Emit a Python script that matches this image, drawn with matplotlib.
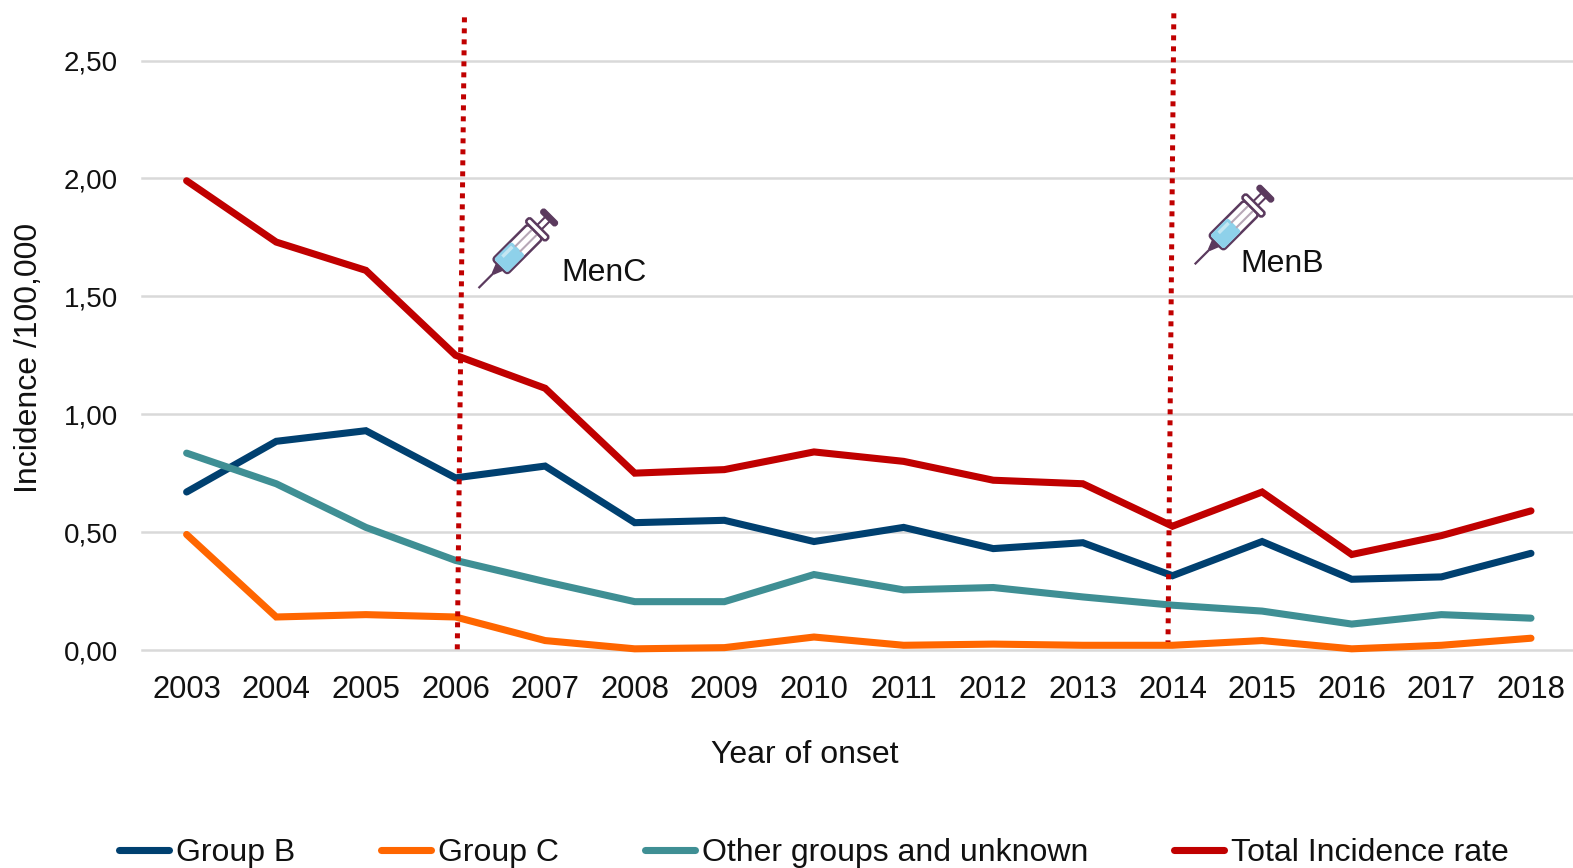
import matplotlib
matplotlib.use("Agg")
import matplotlib.pyplot as plt
from matplotlib.lines import Line2D
from matplotlib.patches import Rectangle, FancyBboxPatch, Polygon
from matplotlib.transforms import Affine2D

plt.rcParams['font.family'] = ['Liberation Sans', 'DejaVu Sans']

years = list(range(2003, 2019))
group_b = [0.67, 0.885, 0.93, 0.73, 0.78, 0.54, 0.55, 0.46, 0.52, 0.43, 0.455, 0.315, 0.46, 0.30, 0.31, 0.41]
group_c = [0.49, 0.14, 0.15, 0.14, 0.04, 0.005, 0.01, 0.055, 0.02, 0.025, 0.02, 0.02, 0.04, 0.005, 0.02, 0.05]
other = [0.835, 0.705, 0.52, 0.38, 0.29, 0.205, 0.205, 0.32, 0.255, 0.265, 0.225, 0.19, 0.165, 0.11, 0.15, 0.135]
total = [1.99, 1.73, 1.61, 1.25, 1.11, 0.75, 0.765, 0.84, 0.80, 0.72, 0.705, 0.525, 0.67, 0.405, 0.485, 0.59]
series = [("Group B", group_b, "#004070"),
          ("Group C", group_c, "#ff6600"),
          ("Other groups and unknown", other, "#3f8f94"),
          ("Total Incidence rate", total, "#c00000")]
y_ticks = [0.0, 0.5, 1.0, 1.5, 2.0, 2.5]

W, H = 1573, 868
AX_LEFT, AX_WIDTH = 141.8, 1434
fig = plt.figure(figsize=(W / 100, H / 100), dpi=100, facecolor="white")
ax = fig.add_axes([AX_LEFT / W, 1 - 650 / H, AX_WIDTH / W, (650 - 60.5) / H])

x = list(range(len(years)))
for label, values, colour in series:
    ax.plot(x, values, color=colour, lw=5.1, label=label,
            solid_capstyle="round", solid_joinstyle="miter", clip_on=False, zorder=3)

ax.set_xlim(-0.5, 15.5)
ax.set_ylim(0, 2.5)
ax.set_xticks(x, [str(y) for y in years])
ax.set_yticks(y_ticks, [f"{v:.2f}".replace(".", ",") for v in y_ticks])
ax.tick_params(length=0, colors="#111111")
ax.tick_params(axis="x", labelsize=22.3, pad=18)
ax.tick_params(axis="y", labelsize=20, pad=17)
for tick_label in ax.get_yticklabels():
    tick_label.set_verticalalignment("center_baseline")
ax.grid(axis="y", color="#d9d9d9", lw=1.8, clip_on=False)
ax.set_axisbelow(True)
for spine in ax.spines.values():
    spine.set_visible(False)
ax.set_xlabel("Year of onset", fontsize=23, color="#111111")
ax.xaxis.set_label_coords((804.5 - AX_LEFT) / AX_WIDTH, -(740 - 650) / (650 - 60.5))
ax.set_ylabel("Incidence /100,000", fontsize=23, color="#111111")
ax.yaxis.set_label_coords(-(AX_LEFT - 29) / AX_WIDTH, 0.495)
ax.yaxis.label.set_va("center")

# Vaccine introduction markers (hand-drawn, slightly slanted)
for xs, ys in [((3.10, 3.02), (2.683, 0.0)), ((11.015, 10.95), (2.70, 0.034))]:
    ax.add_line(Line2D(xs, ys, color="#c00000", lw=3.6, dashes=(1, 1.2),
                       dash_capstyle="butt", clip_on=False, zorder=4))

fig.text(602 / 1568, 1 - 272 / 865, "MenC", fontsize=23,
         ha="center", va="center", color="#111111")
fig.text(1278 / 1568, 1 - 263 / 865, "MenB", fontsize=23,
         ha="center", va="center", color="#111111")


def syringe(tip_x, tip_y):
    """Draw a syringe pointing down-left with its needle tip at the pixel (tip_x, tip_y)."""
    ink = "#5b3a5e"
    place = Affine2D().rotate_deg(45).translate(tip_x, H - tip_y)
    def add(artist):
        artist.set_transform(place)
        artist.set_clip_on(False)
        artist.set_zorder(5)
        fig.add_artist(artist)
    add(Line2D([0, 28], [0, 0], color=ink, lw=1.6))
    add(Polygon([[20, -1], [30, -5], [30, 5], [20, 1]], closed=True, fc=ink, ec=ink, lw=1))
    add(Line2D([78, 98], [0, 0], color=ink, lw=6.0, solid_capstyle="butt"))
    add(Line2D([78, 98], [0, 0], color="white", lw=3.0, solid_capstyle="butt"))
    add(FancyBboxPatch((29, -10.5), 50, 21, boxstyle="round,pad=0,rounding_size=3.5",
                       fc="white", ec=ink, lw=1.8))
    add(FancyBboxPatch((30, -9.6), 25, 19.2, boxstyle="round,pad=0,rounding_size=2.5",
                       fc="#8ed1ea", ec="none"))
    add(Rectangle((38, 3.5), 14, 3.5, fc="#c4e6f2", ec="none"))
    add(Line2D([55, 79], [-3.5, -3.5], color="#b7a8b7", lw=1.5))
    add(Line2D([55, 79], [3.5, 3.5], color="#b7a8b7", lw=1.5))
    add(FancyBboxPatch((79, -14), 6, 28, boxstyle="round,pad=0,rounding_size=2.5",
                       fc="white", ec=ink, lw=1.8))
    add(FancyBboxPatch((96, -10.5), 5.5, 21, boxstyle="round,pad=0,rounding_size=2.5",
                       fc=ink, ec=ink, lw=1))


syringe(479.3, 287.3)
syringe(1195.5, 263.5)

handles, labels = ax.get_legend_handles_labels()
fig.legend(handles, labels, ncol=4, loc="lower left",
           bbox_to_anchor=(119 / W, 0.0), frameon=False, fontsize=23,
           labelcolor="#111111", handlelength=1.56, handletextpad=0.23,
           columnspacing=2.68, borderpad=0, borderaxespad=0)

fig.savefig("out.png", dpi=100, facecolor="white")
